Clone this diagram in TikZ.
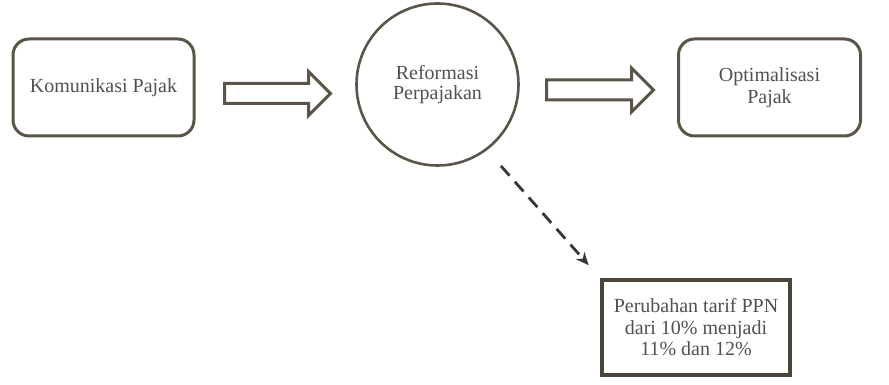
\documentclass[tikz,border=0pt]{standalone}
\usepackage{fontspec}
\setmainfont{Liberation Serif}
\usetikzlibrary{calc,arrows.meta}

\definecolor{framecol}{RGB}{90,85,72}
\definecolor{boxcol}{RGB}{74,68,58}
\definecolor{textcol}{RGB}{80,80,80}
\definecolor{dashcol}{RGB}{55,55,55}

\tikzset{
  roundbox/.style={draw=framecol, line width=3pt, rounded corners=16pt,
    minimum height=97pt, text=textcol, align=center,
    font=\fontsize{20}{22}\selectfont},
  circbox/.style={draw=framecol, line width=2.6pt, circle, minimum size=162pt,
    text=textcol, align=center, font=\fontsize{20}{20}\selectfont},
  ppnbox/.style={draw=boxcol, line width=4pt, minimum width=188pt,
    minimum height=95pt, text=textcol, align=center,
    font=\fontsize{20}{21.5}\selectfont},
  blockline/.style={draw=framecol, line width=3pt, fill=white},
  dasharrow/.style={draw=dashcol, line width=2.8pt, dash pattern=on 13pt off 8pt,
    -{Stealth[length=13pt,width=11pt]}}
}

% block arrow from a tail point to a tip point
\newcommand{\blockarrow}[2]{%
  \draw[blockline] ($(#1)+(0,10)$) -- ($(#2)+(-22,10)$) -- ($(#2)+(-22,22)$)
    -- (#2) -- ($(#2)+(-22,-22)$) -- ($(#2)+(-22,-10)$)
    -- ($(#1)+(0,-10)$) -- cycle;}

\begin{document}
\begin{tikzpicture}[x=1pt,y=1pt]
        \useasboundingbox (0,0) rectangle (889,-385);
        \node[roundbox, minimum width=181pt] (kom) at (103.5,-87.5) {Komunikasi Pajak};
        \node[circbox] (ref) at (437.5,-84.5) {Reformasi\\Perpajakan};
        \node[roundbox, minimum width=182pt] (opt) at (769.5,-87.5) {Optimalisasi\\Pajak};
        \node[ppnbox] (ppn) at (696,-327.5) {Perubahan tarif PPN\\dari 10\% menjadi\\11\% dan 12\%};
        \coordinate (a1s) at (224.5,-93.5);
        \coordinate (a1e) at (330.5,-93.5);
        \coordinate (a2s) at (546.5,-90);
        \coordinate (a2e) at (653.5,-90);
        \blockarrow{a1s}{a1e}
        \blockarrow{a2s}{a2e}
        \draw[dasharrow, shorten <=21pt, shorten >=17pt] (ref.-53.5) -- (ppn.north west);
    \end{tikzpicture}
\end{document}
